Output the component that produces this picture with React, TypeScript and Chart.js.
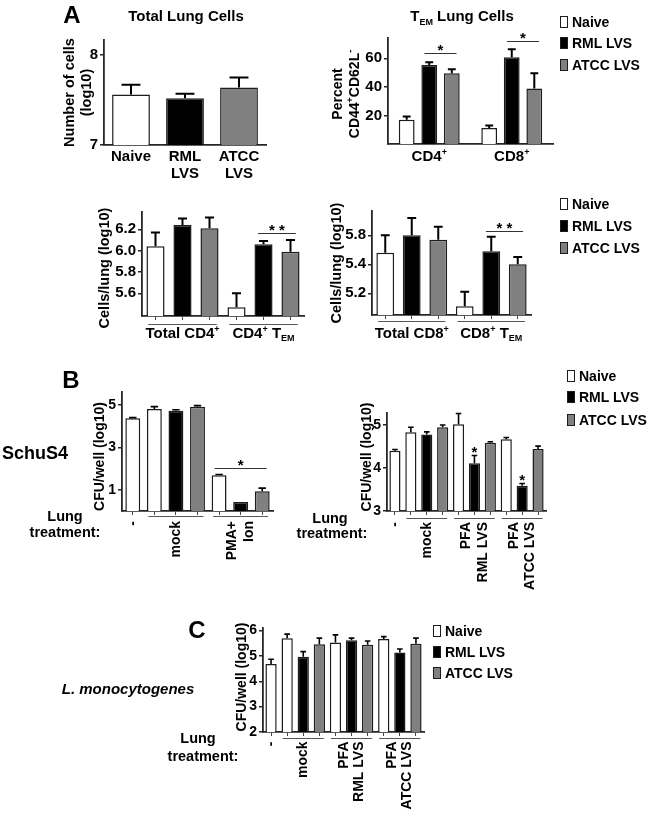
import React, { useEffect, useRef } from "react";
import { Chart, registerables } from "chart.js";

Chart.register(...registerables);

const FONT = "'Liberation Sans', Arial, Helvetica, sans-serif";
const AXIS = "#262626";
const EDGE = "#1c1c1c";

// ---------- shared ----------
const strainNames = ["Naive", "RML LVS", "ATCC LVS"];
const strainColors = ["#ffffff", "#000000", "#808080"];

// ---------- Panel A: total lung cells ----------
const totalCategories = [["Naive"], ["RML", "LVS"], ["ATCC", "LVS"]];
const totalValues = [7.56, 7.52, 7.64];
const totalErrors = [7.67, 7.57, 7.75];
const totalTicks = [7, 8];
const totalTickLabels = ["7", "8"];

// ---------- Panel A: TEM percent ----------
const temCategories = ["CD4^+", "CD8^+"];
const temNaive = [17.0, 11.2];
const temNaiveErr = [19.3, 13.0];
const temRml = [55.3, 60.7];
const temRmlErr = [57.2, 66.3];
const temAtcc = [49.5, 38.8];
const temAtccErr = [52.3, 49.5];
const temTicks = [20, 40, 60];
const temTickLabels = ["20", "40", "60"];

// ---------- Panel A: CD4 cells / lung ----------
const cd4Groups = ["Total CD4^+", "CD4^+ T_EM"];
const cd4GroupOfBar = [0, 0, 0, 1, 1, 1];
const cd4StrainOfBar = [0, 1, 2, 0, 1, 2];
const cd4Values = [6.04, 6.24, 6.21, 5.47, 6.06, 5.99];
const cd4Errors = [6.17, 6.3, 6.31, 5.6, 6.09, 6.1];
const cd4Ticks = [5.6, 5.8, 6.0, 6.2];
const cd4TickLabels = ["5.6", "5.8", "6.0", "6.2"];

// ---------- Panel A: CD8 cells / lung ----------
const cd8Groups = ["Total CD8^+", "CD8^+ T_EM"];
const cd8GroupOfBar = [0, 0, 0, 1, 1, 1];
const cd8StrainOfBar = [0, 1, 2, 0, 1, 2];
const cd8Values = [5.48, 5.6, 5.57, 5.11, 5.49, 5.4];
const cd8Errors = [5.6, 5.72, 5.66, 5.21, 5.59, 5.45];
const cd8Ticks = [5.2, 5.4, 5.6];
const cd8TickLabels = ["5.2", "5.4", "5.8"];

// ---------- Panel B: SchuS4, PMA+Ion ----------
const pmaTreatments = [["-"], ["mock"], ["PMA+", "Ion"]];
const pmaTreatmentOfBar = [0, 1, 1, 1, 2, 2, 2];
const pmaStrainOfBar = [0, 0, 1, 2, 0, 1, 2];
const pmaValues = [4.37, 4.81, 4.73, 4.92, 1.68, 0.42, 0.93];
const pmaErrors = [4.4, 4.92, 4.77, 4.97, 1.72, null, 1.08];
const pmaTicks = [1, 3, 5];
const pmaTickLabels = ["1", "3", "5"];

// ---------- Panel B: SchuS4, PFA ----------
const pfaTreatments = [["-"], ["mock"], ["PFA", "RML LVS"], ["PFA", "ATCC LVS"]];
const pfaTreatmentOfBar = [0, 1, 1, 1, 2, 2, 2, 3, 3, 3];
const pfaStrainOfBar = [0, 0, 1, 2, 0, 1, 2, 0, 1, 2];
const schuValues = [4.4, 4.83, 4.78, 4.95, 5.02, 4.11, 4.59, 4.67, 3.59, 4.44];
const schuErrors = [4.43, 4.95, 4.84, 5.0, 5.27, 4.29, 4.61, 4.71, 3.64, 4.51];
const schuTicks = [3, 4, 5];
const schuTickLabels = ["3", "4", "5"];
const schuStarBars = [5, 8];

// ---------- Panel C: L. monocytogenes ----------
const listeriaValues = [4.68, 5.7, 4.97, 5.46, 5.53, 5.62, 5.44, 5.67, 5.13, 5.48];
const listeriaErrors = [4.87, 5.86, 5.17, 5.7, 5.83, 5.7, 5.59, 5.76, 5.27, 5.7];
const listeriaTicks = [2, 3, 4, 5, 6];
const listeriaTickLabels = ["2", "3", "4", "5", "6"];

// ---------- layout ----------
const PAD_L = 80;
const PAD_T = 30;
const PAD_R = 12;
const PAD_B = 100;

type Seg = { t: string; k: number };

function parseRich(s: string): Seg[] {
  const segs: Seg[] = [];
  let buf = "";
  let i = 0;
  while (i < s.length) {
    const c = s[i];
    if (c === "^") {
      if (buf) segs.push({ t: buf, k: 0 });
      buf = "";
      segs.push({ t: s[i + 1], k: 1 });
      i += 2;
      continue;
    }
    if (c === "_") {
      if (buf) segs.push({ t: buf, k: 0 });
      buf = "";
      let j = i + 1;
      let sub = "";
      while (j < s.length && /[A-Z]/.test(s[j])) {
        sub += s[j];
        j++;
      }
      segs.push({ t: sub, k: -1 });
      i = j;
      continue;
    }
    buf += c;
    i++;
  }
  if (buf) segs.push({ t: buf, k: 0 });
  return segs;
}

function drawRich(ctx: CanvasRenderingContext2D, s: string, x: number, y: number, size: number, align: string) {
  const segs = parseRich(s);
  const big = `bold ${size}px ${FONT}`;
  const small = `bold ${Math.round(size * 0.62)}px ${FONT}`;
  let total = 0;
  const widths = segs.map((g) => {
    ctx.font = g.k ? small : big;
    const m = ctx.measureText(g.t).width;
    total += m;
    return m;
  });
  let cx = align === "center" ? x - total / 2 : align === "right" ? x - total : x;
  ctx.textBaseline = "middle";
  ctx.textAlign = "left";
  ctx.fillStyle = "#000";
  segs.forEach((g, i) => {
    ctx.font = g.k ? small : big;
    const dy = g.k === 1 ? -size * 0.3 : g.k === -1 ? size * 0.32 : 0;
    ctx.fillText(g.t, cx, y + dy);
    cx += widths[i];
  });
}

type DS = { values: (number | null)[]; errs: (number | null)[]; colors: string[] };
type Spec = {
  rect: [number, number, number, number];
  labels: string[];
  datasets: DS[];
  catPct: number;
  barPct: number;
  yMin: number;
  yMax: number;
  tickValues: number[];
  tickLabels: string[];
  tickSize: number;
  xTickMarks: boolean;
  errWidth: number;
  xLabels?: { lines: string[][]; off: number; lh: number; size: number };
  groups?: { members: number[][]; lines: string[][]; rotated: boolean; lineOff: number; textOff: number; lh: number; size: number };
  sig?: { a: [number, number]; b: [number, number]; y: number; text: string }[];
  stars?: { d: number; i: number; text: string }[];
  yTitle: { lines: string[]; offsets: number[]; size: number; dy: number };
};

function membersOf(assign: number[]) {
  const out: number[][] = [];
  assign.forEach((g, i) => {
    if (!out[g]) out[g] = [];
    out[g].push(i);
  });
  return out;
}

function overlay(spec: Spec) {
  return {
    id: "overlay",
    afterDatasetsDraw(chart: any) {
      const ctx: CanvasRenderingContext2D = chart.ctx;
      const ys = chart.scales.y;
      ctx.save();
      ctx.strokeStyle = "#000";
      ctx.lineWidth = spec.errWidth;
      spec.datasets.forEach((d, di) => {
        const meta = chart.getDatasetMeta(di);
        d.errs.forEach((e, i) => {
          const v = d.values[i];
          if (e == null || v == null) return;
          const el = meta.data[i];
          const x = el.x;
          const yTop = ys.getPixelForValue(v);
          const yErr = ys.getPixelForValue(e);
          const cap = el.width * 0.5;
          ctx.beginPath();
          ctx.moveTo(x, yTop);
          ctx.lineTo(x, yErr);
          ctx.moveTo(x - cap / 2, yErr);
          ctx.lineTo(x + cap / 2, yErr);
          ctx.stroke();
        });
      });
      ctx.restore();
    },
    afterDraw(chart: any) {
      const ctx: CanvasRenderingContext2D = chart.ctx;
      const ys = chart.scales.y;
      const xs = chart.scales.x;
      const area = chart.chartArea;
      ctx.save();
      if (spec.xLabels) {
        const xl = spec.xLabels;
        xl.lines.forEach((ls, i) => {
          const x = xs.getPixelForTick(i);
          ls.forEach((l, j) => drawRich(ctx, l, x, area.bottom + xl.off + j * xl.lh, xl.size, "center"));
        });
      }
      if (spec.groups) {
        const g = spec.groups;
        const meta = chart.getDatasetMeta(0);
        g.members.forEach((m, gi) => {
          const first = meta.data[m[0]];
          const last = meta.data[m[m.length - 1]];
          const mid = (first.x + last.x) / 2;
          if (m.length > 1) {
            ctx.strokeStyle = "#555";
            ctx.lineWidth = 1;
            ctx.beginPath();
            const ly = Math.round(area.bottom + g.lineOff) + 0.5;
            ctx.moveTo(first.x - first.width * 0.4, ly);
            ctx.lineTo(last.x + last.width * 0.4, ly);
            ctx.stroke();
          }
          const lines = g.lines[gi];
          if (g.rotated) {
            ctx.save();
            ctx.translate(mid, area.bottom + g.textOff);
            ctx.rotate(-Math.PI / 2);
            lines.forEach((l, j) => drawRich(ctx, l, 0, (j - (lines.length - 1) / 2) * g.lh, g.size, "right"));
            ctx.restore();
          } else {
            lines.forEach((l, j) => drawRich(ctx, l, mid, area.bottom + g.textOff + j * g.lh, g.size, "center"));
          }
        });
      }
      (spec.sig || []).forEach((s) => {
        const ea = chart.getDatasetMeta(s.a[0]).data[s.a[1]];
        const eb = chart.getDatasetMeta(s.b[0]).data[s.b[1]];
        const y = Math.round(ys.getPixelForValue(s.y)) + 0.5;
        const xa = ea.x - ea.width * 0.3;
        const xb = eb.x + eb.width * 0.3;
        ctx.strokeStyle = "#333";
        ctx.lineWidth = 1.2;
        ctx.beginPath();
        ctx.moveTo(xa, y);
        ctx.lineTo(xb, y);
        ctx.stroke();
        drawRich(ctx, s.text, (xa + xb) / 2, y - 3, 15, "center");
      });
      (spec.stars || []).forEach((s) => {
        const el = chart.getDatasetMeta(s.d).data[s.i];
        const top = spec.datasets[s.d].errs[s.i] ?? spec.datasets[s.d].values[s.i];
        const y = ys.getPixelForValue(top as number);
        drawRich(ctx, s.text, el.x, y - 3, 15, "center");
      });
      const t = spec.yTitle;
      t.lines.forEach((l, j) => {
        ctx.save();
        ctx.translate(area.left + t.offsets[j], (area.top + area.bottom) / 2 + t.dy);
        ctx.rotate(-Math.PI / 2);
        drawRich(ctx, l, 0, 0, t.size, "center");
        ctx.restore();
      });
      ctx.restore();
    },
  };
}

function buildConfig(spec: Spec): any {
  return {
    type: "bar",
    data: {
      labels: spec.labels,
      datasets: spec.datasets.map((d) => ({
        data: d.values,
        backgroundColor: d.colors,
        borderColor: EDGE,
        borderWidth: 1.5,
        categoryPercentage: spec.catPct,
        barPercentage: spec.barPct,
      })),
    },
    options: {
      responsive: false,
      maintainAspectRatio: false,
      animation: false,
      devicePixelRatio: 1,
      events: [],
      layout: { padding: { left: 0, top: PAD_T, right: PAD_R, bottom: 0 } },
      plugins: { legend: { display: false }, tooltip: { enabled: false }, title: { display: false } },
      scales: {
        x: {
          type: "category",
          offset: true,
          grid: {
            display: spec.xTickMarks,
            drawOnChartArea: false,
            drawTicks: true,
            tickLength: 4,
            offset: false,
            color: "#444",
            lineWidth: 1,
          },
          border: { display: true, color: AXIS, width: 1.8 },
          ticks: { display: false },
          afterFit: (s: any) => {
            s.height = PAD_B;
          },
        },
        y: {
          type: "linear",
          min: spec.yMin,
          max: spec.yMax,
          grid: { display: true, drawOnChartArea: false, drawTicks: true, tickLength: 4, color: AXIS, lineWidth: 1.5 },
          border: { display: true, color: AXIS, width: 1.8 },
          ticks: {
            color: "#000",
            padding: 2,
            autoSkip: false,
            font: { family: FONT, size: spec.tickSize, weight: "bold" },
            callback: (_v: any, i: number) => spec.tickLabels[i] ?? "",
          },
          afterBuildTicks: (s: any) => {
            s.ticks = spec.tickValues.map((v) => ({ value: v }));
          },
          afterFit: (s: any) => {
            s.width = PAD_L;
          },
        },
      },
    },
    plugins: [overlay(spec)],
  };
}

const colorsOf = (strains: number[]) => strains.map((k) => strainColors[k]);
const namesOf = (strains: number[]) => strains.map((k) => strainNames[k]);

const specs: Spec[] = [
  {
    rect: [104, 40, 266, 145],
    labels: totalCategories.map((c) => c.join(" ")),
    datasets: [{ values: totalValues, errs: totalErrors, colors: colorsOf([0, 1, 2]) }],
    catPct: 1,
    barPct: 0.7,
    yMin: 7,
    yMax: 8.167,
    tickValues: totalTicks,
    tickLabels: totalTickLabels,
    tickSize: 15,
    xTickMarks: false,
    errWidth: 2,
    xLabels: { lines: totalCategories, off: 12, lh: 17, size: 15 },
    yTitle: { lines: ["Number of cells", "(log10)"], offsets: [-34, -17], size: 14.5, dy: 0 },
  },
  {
    rect: [388, 38, 553, 144],
    labels: temCategories,
    datasets: [
      { values: temNaive, errs: temNaiveErr, colors: [strainColors[0], strainColors[0]] },
      { values: temRml, errs: temRmlErr, colors: [strainColors[1], strainColors[1]] },
      { values: temAtcc, errs: temAtccErr, colors: [strainColors[2], strainColors[2]] },
    ],
    catPct: 0.82,
    barPct: 0.7,
    yMin: 0,
    yMax: 74.2,
    tickValues: temTicks,
    tickLabels: temTickLabels,
    tickSize: 15,
    xTickMarks: false,
    errWidth: 2,
    xLabels: { lines: temCategories.map((c) => [c]), off: 13, lh: 17, size: 15 },
    sig: [
      { a: [1, 0], b: [2, 0], y: 63.5, text: "*" },
      { a: [1, 1], b: [2, 1], y: 72, text: "*" },
    ],
    yTitle: { lines: ["Percent", "CD44^+CD62L^-"], offsets: [-50, -33], size: 14, dy: 3 },
  },
  {
    rect: [142, 212, 304, 316],
    labels: namesOf(cd4StrainOfBar),
    datasets: [{ values: cd4Values, errs: cd4Errors, colors: colorsOf(cd4StrainOfBar) }],
    catPct: 1,
    barPct: 0.67,
    yMin: 5.387,
    yMax: 6.362,
    tickValues: cd4Ticks,
    tickLabels: cd4TickLabels,
    tickSize: 15,
    xTickMarks: true,
    errWidth: 2,
    groups: {
      members: membersOf(cd4GroupOfBar),
      lines: cd4Groups.map((g) => [g]),
      rotated: false,
      lineOff: 8,
      textOff: 18,
      lh: 16,
      size: 15,
    },
    sig: [{ a: [0, 4], b: [0, 5], y: 6.168, text: "* *" }],
    yTitle: { lines: ["Cells/lung (log10)"], offsets: [-37], size: 14.5, dy: 4 },
  },
  {
    rect: [372, 211, 531, 315],
    labels: namesOf(cd8StrainOfBar),
    datasets: [{ values: cd8Values, errs: cd8Errors, colors: colorsOf(cd8StrainOfBar) }],
    catPct: 1,
    barPct: 0.67,
    yMin: 5.05,
    yMax: 5.768,
    tickValues: cd8Ticks,
    tickLabels: cd8TickLabels,
    tickSize: 15,
    xTickMarks: true,
    errWidth: 2,
    groups: {
      members: membersOf(cd8GroupOfBar),
      lines: cd8Groups.map((g) => [g]),
      rotated: false,
      lineOff: 6,
      textOff: 19,
      lh: 16,
      size: 15,
    },
    sig: [{ a: [0, 4], b: [0, 5], y: 5.63, text: "* *" }],
    yTitle: { lines: ["Cells/lung (log10)"], offsets: [-35], size: 14.5, dy: 0 },
  },
  {
    rect: [122, 392, 273, 511],
    labels: namesOf(pmaStrainOfBar),
    datasets: [{ values: pmaValues, errs: pmaErrors, colors: colorsOf(pmaStrainOfBar) }],
    catPct: 1,
    barPct: 0.69,
    yMin: 0,
    yMax: 5.61,
    tickValues: pmaTicks,
    tickLabels: pmaTickLabels,
    tickSize: 14,
    xTickMarks: true,
    errWidth: 1.6,
    groups: {
      members: membersOf(pmaTreatmentOfBar),
      lines: pmaTreatments,
      rotated: true,
      lineOff: 5,
      textOff: 10,
      lh: 17,
      size: 14,
    },
    sig: [{ a: [0, 4], b: [0, 6], y: 2.04, text: "*" }],
    yTitle: { lines: ["CFU/well (log10)"], offsets: [-22], size: 14, dy: 5 },
  },
  {
    rect: [387, 413, 546, 511],
    labels: namesOf(pfaStrainOfBar),
    datasets: [{ values: schuValues, errs: schuErrors, colors: colorsOf(pfaStrainOfBar) }],
    catPct: 1,
    barPct: 0.7,
    yMin: 3,
    yMax: 5.28,
    tickValues: schuTicks,
    tickLabels: schuTickLabels,
    tickSize: 14,
    xTickMarks: true,
    errWidth: 1.6,
    groups: {
      members: membersOf(pfaTreatmentOfBar),
      lines: pfaTreatments,
      rotated: true,
      lineOff: 7,
      textOff: 11,
      lh: 16.5,
      size: 14,
    },
    stars: schuStarBars.map((i) => ({ d: 0, i, text: "*" })),
    yTitle: { lines: ["CFU/well (log10)"], offsets: [-20], size: 14, dy: -5 },
  },
  {
    rect: [263, 628, 424, 732],
    labels: namesOf(pfaStrainOfBar),
    datasets: [{ values: listeriaValues, errs: listeriaErrors, colors: colorsOf(pfaStrainOfBar) }],
    catPct: 1,
    barPct: 0.7,
    yMin: 2,
    yMax: 6.1,
    tickValues: listeriaTicks,
    tickLabels: listeriaTickLabels,
    tickSize: 14,
    xTickMarks: true,
    errWidth: 1.6,
    groups: {
      members: membersOf(pfaTreatmentOfBar),
      lines: pfaTreatments,
      rotated: true,
      lineOff: 5.5,
      textOff: 9.5,
      lh: 15,
      size: 14,
    },
    yTitle: { lines: ["CFU/well (log10)"], offsets: [-21], size: 14, dy: -3 },
  },
];

function ChartPanel({ spec }: { spec: Spec }) {
  const ref = useRef<HTMLCanvasElement>(null);
  const [x0, y0, x1, y1] = spec.rect;
  const w = x1 - x0 + PAD_L + PAD_R;
  const h = y1 - y0 + PAD_T + PAD_B;
  useEffect(() => {
    const chart = new Chart(ref.current as HTMLCanvasElement, buildConfig(spec));
    return () => chart.destroy();
  }, [spec]);
  return (
    <canvas
      ref={ref}
      width={w}
      height={h}
      style={{ position: "absolute", left: x0 - PAD_L, top: y0 - PAD_T, width: w, height: h }}
    />
  );
}

function Txt({ x, y, size, children, italic }: { x: number; y: number; size: number; children: any; italic?: boolean }) {
  return (
    <div
      style={{
        position: "absolute",
        left: x,
        top: y,
        transform: "translate(-50%, -50%)",
        fontFamily: FONT,
        fontWeight: "bold",
        fontStyle: italic ? "italic" : "normal",
        fontSize: size,
        lineHeight: 1,
        whiteSpace: "nowrap",
        color: "#000",
      }}
    >
      {children}
    </div>
  );
}

function Legend({ x, rows }: { x: number; rows: number[] }) {
  return (
    <>
      {strainNames.map((n, i) => (
        <React.Fragment key={n}>
          <div
            style={{
              position: "absolute",
              left: x,
              top: rows[i] - 6,
              width: 8,
              height: 12,
              boxSizing: "border-box",
              border: `1.5px solid ${EDGE}`,
              background: strainColors[i],
            }}
          />
          <div
            style={{
              position: "absolute",
              left: x + 12,
              top: rows[i] - 7,
              fontFamily: FONT,
              fontWeight: "bold",
              fontSize: 14,
              lineHeight: "14px",
              whiteSpace: "nowrap",
              color: "#000",
            }}
          >
            {n}
          </div>
        </React.Fragment>
      ))}
    </>
  );
}

function LungTreatment({ x1, y1, x2, y2 }: { x1: number; y1: number; x2: number; y2: number }) {
  return (
    <>
      <Txt x={x1} y={y1} size={14.5}>Lung</Txt>
      <Txt x={x2} y={y2} size={14.5}>treatment:</Txt>
    </>
  );
}

export default function App() {
  return (
    <div style={{ position: "absolute", left: 0, top: 0, width: 650, height: 817, background: "#fff", overflow: "hidden" }}>
      {specs.map((s, i) => (
        <ChartPanel key={i} spec={s} />
      ))}
      <Txt x={72} y={15} size={24}>A</Txt>
      <Txt x={186} y={15} size={15}>Total Lung Cells</Txt>
      <Txt x={462} y={15} size={15}>
        T<span style={{ fontSize: 9, position: "relative", top: 4 }}>EM</span> Lung Cells
      </Txt>
      <Legend x={560} rows={[22, 43, 65]} />
      <Legend x={560} rows={[204, 226, 248]} />

      <Txt x={71} y={380} size={24}>B</Txt>
      <Txt x={35} y={453} size={18}>SchuS4</Txt>
      <LungTreatment x1={65} y1={516} x2={65} y2={532} />
      <LungTreatment x1={330} y1={518} x2={332} y2={533} />
      <Legend x={567} rows={[376, 397, 420]} />

      <Txt x={197} y={630} size={24}>C</Txt>
      <Txt x={128} y={688} size={15} italic>L. monocytogenes</Txt>
      <LungTreatment x1={198} y1={738} x2={203} y2={756} />
      <Legend x={433} rows={[631, 652, 673]} />
    </div>
  );
}
